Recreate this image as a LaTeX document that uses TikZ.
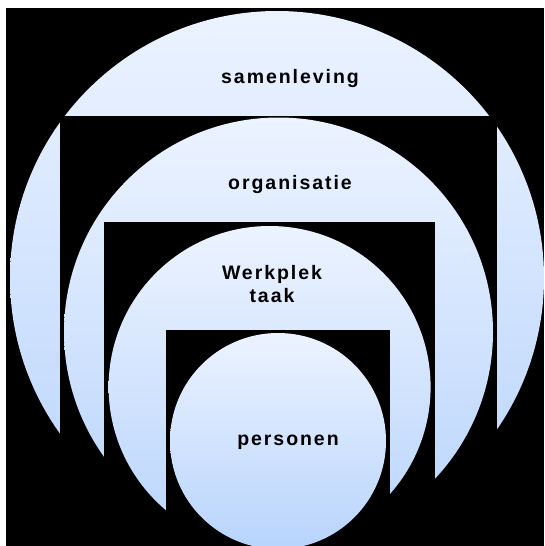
\documentclass[tikz,border=0pt]{standalone}
\usepackage{fontspec}
\usepackage{tikz}
\usetikzlibrary{positioning}
\newfontfamily\ringfont[LetterSpace=10]{Liberation Sans}
\definecolor{ringtop}{RGB}{236,243,255}
\definecolor{ringbot}{RGB}{184,212,252}

\begin{document}
\begin{tikzpicture}[x=1pt, y=-1pt,
ring/.style={top color=ringtop, bottom color=ringbot, draw=none},
gap/.style={fill=black},
lbl/.style={font=\ringfont\bfseries\fontsize{19.5}{22.5}\selectfont, text=black, inner sep=0pt, anchor=base, align=center}]
\useasboundingbox (0,0) rectangle (544,546);
\fill[black] (6,8) rectangle (544,546);

% rings from outside in, each cut open by a black frame
\shade[ring] (277,278) circle[radius=267];
\fill[gap] (60,116) rectangle (497,546);
\shade[ring] (278.5,332) circle[radius=214.5];
\fill[gap] (104,222) rectangle (435,546);
\shade[ring] (269.6,387) circle[radius=161];
\fill[gap] (166,330) rectangle (390,546);
\shade[ring] (278,441) circle[radius=108];

\node[lbl] (samenleving) at (290,83) {samenleving};
\node[lbl] (organisatie) at (290,189) {organisatie};
\node[lbl] (werkplek) at (272,302) {Werkplek\\taak};
\node[lbl] (personen) at (288,445.5) {personen};
\end{tikzpicture}
\end{document}
